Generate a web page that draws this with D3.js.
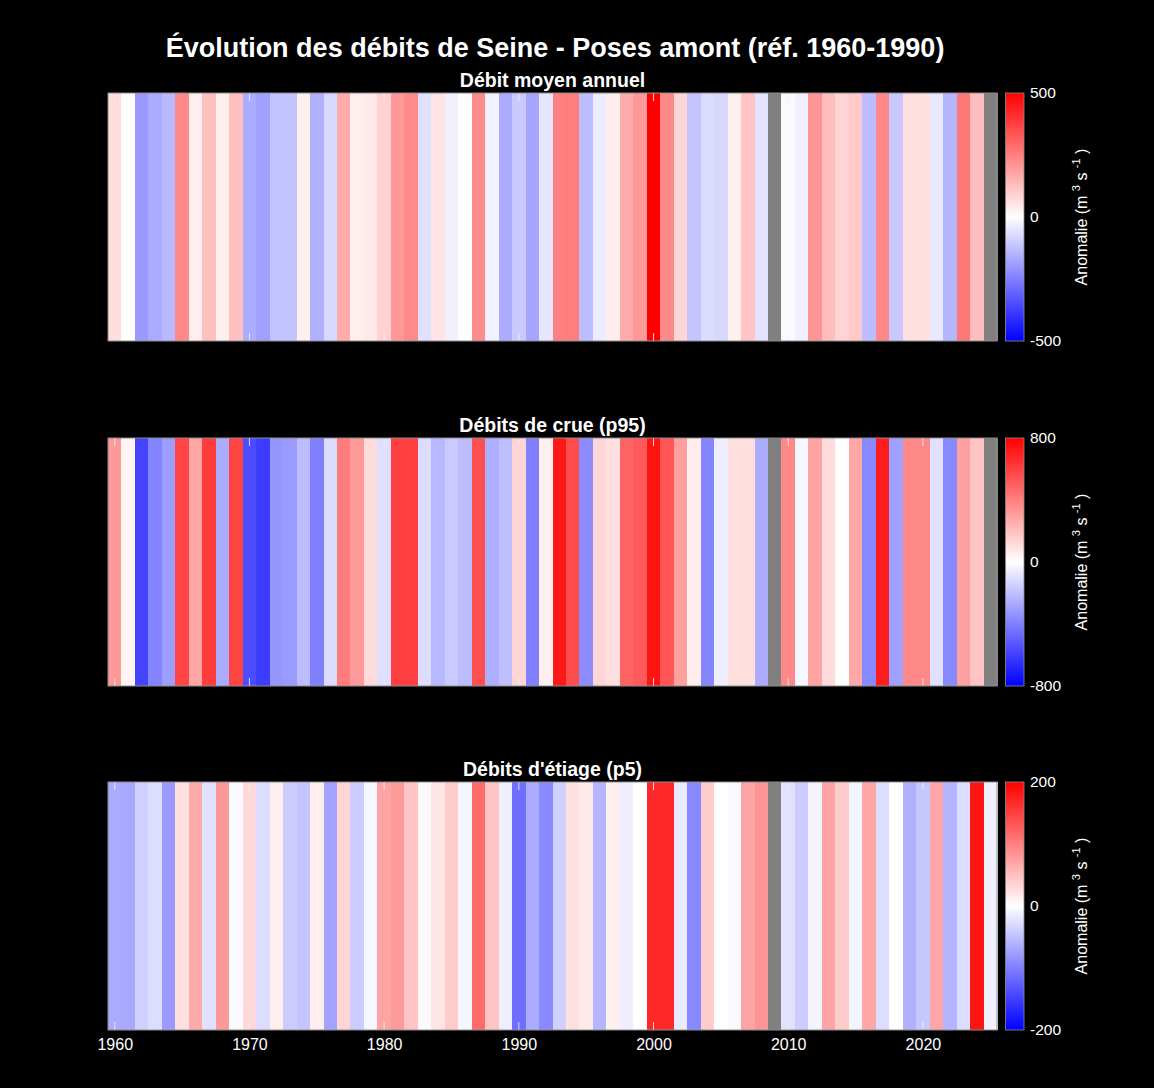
<!DOCTYPE html>
<html>
<head>
<meta charset="utf-8">
<script src="https://cdn.jsdelivr.net/npm/d3@7"></script>
<style>
  body { margin:0; background:#000; }
  svg text { font-family: "Liberation Sans", Arial, Helvetica, sans-serif; fill:#fff; }
</style>
</head>
<body>
<svg id="chart" width="1154" height="1088"></svg>
<script>
/* DATA */
const years = d3.range(1960, 2026);
const tickYears = [1960, 1970, 1980, 1990, 2000, 2010, 2020];

// anomalies (m3/s) par rapport a 1960-1990, NaN = pas de donnee
const debitMoyen = [
  67, 0, -200, -165, -137, 233, 33, 123, 30, 123,
  -165, -186, -120, -118, 30, -155, -76, 165, 33, 45,
  90, 200, 230, -60, 53, -30, 3, 225, -25, -165,
  -105, -175, -50, 250, 255, -130, -37, 37, 165, 200,
  500, 233, 80, -115, -68, -76, 30, 115, -53, NaN,
  -12, -30, 210, 130, 84, 105, -130, 233, -108, 60,
  62, -45, -143, 265, 130, NaN
];
const debitCrue = [
  320, 35, -587, -386, -307, 587, 279, 612, -267, 587,
  -562, -612, -329, -317, -210, -400, -110, 411, 317, 110,
  -100, 600, 600, -110, -220, -165, -210, 550, -250, -200,
  135, -400, 47, 725, 562, -360, 130, 100, 486, 520,
  737, 533, 298, 60, -380, -53, 103, 103, -260, NaN,
  373, -25, 290, 110, 2, 273, -373, 712, -298, 373,
  370, -93, -373, 298, 185, NaN
];
const debitEtiage = [
  -67, -68, -37, -27, -80, 24, 67, -24, 80, -4,
  30, -27, 13, -40, -46, 13, -72, 33, -40, -6,
  71, 79, 46, 4, 20, 40, -7, 117, 46, -13,
  -114, -65, -92, -37, 24, 17, -59, 12, -13, 0,
  169, 169, -16, -93, 40, 0, -5, 71, 84, NaN,
  -23, -40, -9, 71, 40, -9, 70, -27, 0, -62,
  -44, 70, -59, -27, 184, -12
];

const titles = ["Débit moyen annuel", "Débits de crue (p95)", "Débits d'étiage (p5)"];
const limits = [500, 800, 200];
const series = [debitMoyen, debitCrue, debitEtiage];

/* LAYOUT */
const svg = d3.select('#chart');
const left = 108, right = 997;
const panelTops = [93, 438, 782];
const panelH = 248;
const cbX = 1005.5, cbW = 18.5;

const x = d3.scaleLinear()
  .domain([years[0] - 0.5, years[years.length - 1] + 0.5])
  .range([left, right]);

svg.append('rect').attr('width', 1154).attr('height', 1088).attr('fill', '#000');

/* MAIN TITLE */
svg.append('text')
  .attr('x', 555).attr('y', 57)
  .attr('text-anchor', 'middle')
  .style('font-size', '27px').style('font-weight', 'bold')
  .text('Évolution des débits de Seine - Poses amont (réf. 1960-1990)');

const defs = svg.append('defs');

/* PANELS */
series.forEach(function(values, k){
  let top = panelTops[k];
  let lim = limits[k];
  let y = d3.scaleLinear().domain([0, 1]).range([top + panelH, top]);
  let color = d3.scaleLinear()
    .domain([-lim, 0, lim])
    .range(['#0000ff', '#ffffff', '#ff0000'])
    .clamp(true);

  let g = svg.append('g');

  // stripes
  g.selectAll('rect.stripe')
    .data(years.map((yr, i) => ({year: yr, v: values[i]})))
    .enter().append('rect')
    .attr('class', 'stripe')
    .attr('x', d => x(d.year - 0.5))
    .attr('width', d => x(d.year + 0.5) - x(d.year - 0.5) + 0.5)
    .attr('y', y(1))
    .attr('height', y(0) - y(1))
    .attr('shape-rendering', 'crispEdges')
    .attr('fill', d => isNaN(d.v) ? '#808080' : color(d.v));

  // inward ticks top and bottom
  g.selectAll('line.ttop')
    .data(tickYears).enter().append('line')
    .attr('x1', d => x(d)).attr('x2', d => x(d))
    .attr('y1', y(1)).attr('y2', y(1) + 8)
    .attr('stroke', '#f2f2f2').attr('stroke-opacity', 0.85).attr('stroke-width', 1);
  g.selectAll('line.tbot')
    .data(tickYears).enter().append('line')
    .attr('x1', d => x(d)).attr('x2', d => x(d))
    .attr('y1', y(0)).attr('y2', y(0) - 8)
    .attr('stroke', '#f2f2f2').attr('stroke-opacity', 0.85).attr('stroke-width', 1);

  // box
  g.append('rect')
    .attr('x', left).attr('y', y(1))
    .attr('width', right - left).attr('height', y(0) - y(1))
    .attr('fill', 'none').attr('stroke', '#8c8c8c').attr('stroke-width', 1);

  // subtitle
  svg.append('text')
    .attr('x', (left + right) / 2).attr('y', top - 6)
    .attr('text-anchor', 'middle')
    .style('font-size', '19.5px').style('font-weight', 'bold')
    .text(titles[k]);

  /* COLORBAR */
  let gradId = 'grad' + k;
  let grad = defs.append('linearGradient')
    .attr('id', gradId)
    .attr('x1', 0).attr('y1', 1).attr('x2', 0).attr('y2', 0);
  grad.selectAll('stop')
    .data([-lim, 0, lim]).enter().append('stop')
    .attr('offset', (d, i) => i / 2)
    .attr('stop-color', d => color(d));

  svg.append('rect')
    .attr('x', cbX).attr('y', top)
    .attr('width', cbW).attr('height', panelH)
    .attr('fill', 'url(#' + gradId + ')')
    .attr('stroke', '#8c8c8c').attr('stroke-width', 0.8);

  let cbScale = d3.scaleLinear().domain([-lim, lim]).range([top + panelH, top]);
  let cbAxis = svg.append('g')
    .attr('transform', 'translate(' + (cbX + cbW) + ',0)')
    .call(d3.axisRight(cbScale).tickValues([-lim, 0, lim])
      .tickFormat(d => String(d)).tickSize(0).tickPadding(6));
  cbAxis.select('.domain').remove();
  cbAxis.selectAll('text')
    .style('font-size', '15.5px').attr('fill', '#fff')
    .style('font-family', '"Liberation Sans", Arial, sans-serif');

  // colorbar label
  let lab = svg.append('text')
    .attr('transform', 'translate(1087,' + (top + panelH / 2) + ') rotate(-90)')
    .attr('text-anchor', 'middle')
    .style('font-size', '16px');
  lab.append('tspan').text('Anomalie (m ');
  lab.append('tspan').text('3').style('font-size', '11px').attr('dy', -7);
  lab.append('tspan').text(' s ').style('font-size', '16px').attr('dy', 7);
  lab.append('tspan').text('-1').style('font-size', '11px').attr('dy', -7);
  lab.append('tspan').text(' )').style('font-size', '16px').attr('dy', 7);
});

/* X AXIS (bottom panel only) */
let xAxis = svg.append('g')
  .attr('transform', 'translate(0,' + (panelTops[2] + panelH) + ')')
  .call(d3.axisBottom(x).tickValues(tickYears).tickFormat(d3.format('d')).tickSize(0).tickPadding(9));
xAxis.select('.domain').remove();
xAxis.selectAll('text')
  .style('font-size', '16px').attr('fill', '#fff')
  .style('font-family', '"Liberation Sans", Arial, sans-serif');
</script>
</body>
</html>
